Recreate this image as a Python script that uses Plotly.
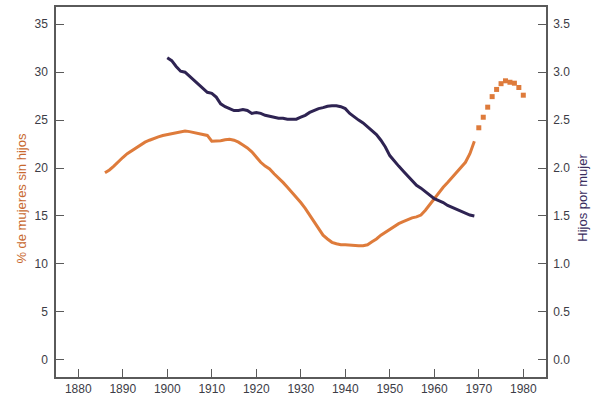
import plotly.graph_objects as go

years_pct = list(range(1886, 1970))
pct_childless = [19.5, 19.8, 20.2, 20.7, 21.1, 21.5, 21.8, 22.1, 22.4, 22.7,
                 22.9, 23.1, 23.25, 23.4, 23.5, 23.6, 23.7, 23.8, 23.85, 23.8,
                 23.7, 23.6, 23.55, 23.4, 22.8, 22.8, 22.85, 22.95, 23.0, 22.9,
                 22.7, 22.4, 22.1, 21.7, 21.1, 20.6, 20.2, 19.9, 19.4, 19.0,
                 18.5, 18.0, 17.5, 17.0, 16.4, 15.8, 15.1, 14.4, 13.7, 13.0,
                 12.6, 12.25, 12.1, 12.0, 12.0, 11.95, 11.9, 11.9, 11.9, 12.0,
                 12.3, 12.6, 13.0, 13.3, 13.6, 13.9, 14.2, 14.4, 14.6, 14.8,
                 14.9, 15.1, 15.6, 16.2, 16.9, 17.5, 18.0, 18.5, 19.0, 19.5,
                 20.0, 20.6, 21.5, 22.8]

years_pct_proj = list(range(1970, 1981))
pct_childless_proj = [24.2, 25.3, 26.35, 27.45, 28.2, 28.8, 29.1, 28.95, 28.85, 28.4, 27.6]

years_tfr = list(range(1900, 1970))
children_per_woman = [3.15, 3.12, 3.06, 3.01, 3.0, 2.96, 2.92, 2.88, 2.84, 2.79,
                      2.78, 2.74, 2.67, 2.64, 2.62, 2.60, 2.60, 2.61, 2.60, 2.57,
                      2.58, 2.57, 2.55, 2.54, 2.53, 2.52, 2.52, 2.51, 2.51, 2.51,
                      2.53, 2.55, 2.58, 2.60, 2.62, 2.63, 2.645, 2.65, 2.65, 2.64,
                      2.62, 2.57, 2.53, 2.50, 2.47, 2.43, 2.39, 2.35, 2.29, 2.22,
                      2.13, 2.07, 2.02, 1.97, 1.92, 1.87, 1.82, 1.79, 1.75, 1.72,
                      1.68, 1.66, 1.64, 1.61, 1.59, 1.57, 1.55, 1.53, 1.51, 1.50]

x_ticks = [1880, 1890, 1900, 1910, 1920, 1930, 1940, 1950, 1960, 1970, 1980]
left_ticks = [0, 5, 10, 15, 20, 25, 30, 35]
right_ticks = [0.0, 0.5, 1.0, 1.5, 2.0, 2.5, 3.0, 3.5]
left_title = "% de mujeres sin hijos"
right_title = "Hijos por mujer"

ORANGE = "#DE7B3B"
PURPLE = "#2E2352"
AXIS = "#5a5a5a"
TXT = "#3c3c46"
FONT = "Liberation Sans, Arial, sans-serif"

fig = go.Figure()
fig.add_trace(go.Scatter(x=years_pct, y=pct_childless, mode="lines",
                         line=dict(color=ORANGE, width=3), showlegend=False))
fig.add_trace(go.Scatter(x=years_pct_proj, y=pct_childless_proj, mode="markers",
                         marker=dict(color=ORANGE, size=5, symbol="square"),
                         showlegend=False))
fig.add_trace(go.Scatter(x=years_tfr, y=children_per_woman, mode="lines", yaxis="y2",
                         line=dict(color=PURPLE, width=3), showlegend=False))

fig.update_layout(
    width=598, height=398,
    margin=dict(l=56, r=52, t=7, b=21),
    paper_bgcolor="white", plot_bgcolor="white",
    font=dict(family=FONT, size=12, color=TXT),
    xaxis=dict(range=[1875, 1985.1], tickvals=x_ticks, ticks="inside", ticklen=8,
               tickcolor=AXIS, tickwidth=1.2, showline=True, linecolor=AXIS,
               linewidth=1.5, mirror=True, showgrid=False, zeroline=False,
               automargin=False, tickfont=dict(size=12, color=TXT)),
    yaxis=dict(range=[-1.8, 36.8], tickvals=left_ticks, ticks="inside", ticklen=8,
               tickcolor=AXIS, tickwidth=1.2, showline=True, linecolor=AXIS,
               linewidth=1.5, showgrid=False, zeroline=False, automargin=False,
               ticklabelstandoff=4,
               tickfont=dict(size=12, color=TXT)),
    yaxis2=dict(range=[-0.18, 3.68], tickvals=right_ticks, tickformat=".1f",
                overlaying="y", side="right", ticks="inside", ticklen=8,
                tickcolor=AXIS, tickwidth=1.2, showline=True, linecolor=AXIS,
                linewidth=1.5, showgrid=False, zeroline=False, automargin=False,
                ticklabelstandoff=3,
                tickfont=dict(size=12, color=TXT)),
    annotations=[
        dict(text=left_title, xref="paper", yref="paper", x=-0.07, y=0.484,
             xanchor="center", yanchor="middle", textangle=-90, showarrow=False,
             font=dict(size=13, color="#C8682E")),
        dict(text=right_title, xref="paper", yref="paper", x=1.075, y=0.484,
             xanchor="center", yanchor="middle", textangle=-90, showarrow=False,
             font=dict(size=13, color="#3A2D5E")),
    ],
)

fig.write_html("out.html", config={"displayModeBar": False},
               post_script="document.body.style.margin='0';document.body.style.overflow='hidden';")
